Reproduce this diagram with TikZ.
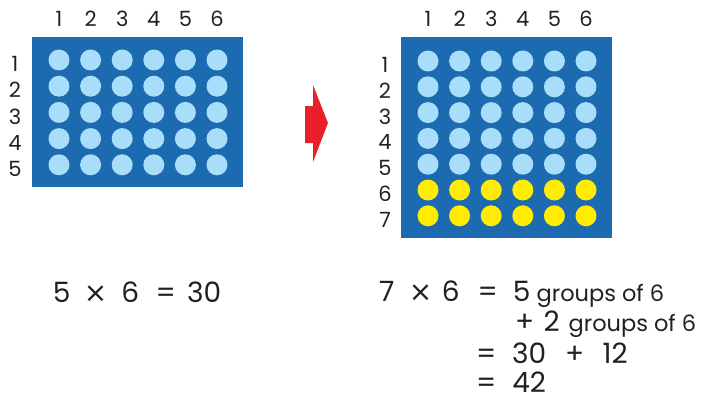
\documentclass[tikz,border=0pt]{standalone}
\usepackage{fontspec}
\setmainfont{Poppins}
\newfontfamily\symfont{DejaVu Sans}
\usetikzlibrary{positioning}
\definecolor{board}{HTML}{1C6BB0}
\definecolor{dot}{HTML}{A8DEF9}
\definecolor{added}{HTML}{FFEC00}
\definecolor{arrowred}{HTML}{E8202A}
\definecolor{ink}{HTML}{231F20}
\newcommand\grp{\fontsize{22.5}{26}\selectfont}
% token centred at the current point, then a step to the next centre
\newcommand\tok[2]{\makebox[0pt]{#1}\hspace{#2pt}}
\newcommand\by{{\symfont ×}}
\tikzset{
  boardbox/.style={fill=board, draw=none},
  peg/.style={fill=#1, draw=none},
  idx/.style={font=\fontsize{21}{24}\selectfont, text=ink, inner sep=0pt},
  eqn/.style={font=\fontsize{28}{32}\selectfont, text=ink, inner sep=0pt,
    text depth=0pt, anchor=base west},
  turn/.style={fill=arrowred, draw=none},
}

\begin{document}
\begin{tikzpicture}[x=1pt, y=-1pt]
  \useasboundingbox (0,0) rectangle (704,404);

  % ---------------- left board: 5 rows of 6 ----------------
  \fill[boardbox] (32,37) rectangle (243,187);
  \foreach \c in {1,...,6} {
    \node[idx] (ltop\c) at ({59+31.6*(\c-1)},19) {\c};
    \foreach \r in {1,...,5}
      \fill[peg=dot] ({59+31.6*(\c-1)},{60+26.2*(\r-1)}) circle (10.5);
  }
  \foreach \r in {1,...,5}
    \node[idx] (lrow\r) at (15,{64+26.2*(\r-1)}) {\r};

  % ---------------- arrow ----------------
  \fill[turn] (305,106) -- (313,106) -- (313,85) -- (328,123) -- (313,162)
    -- (313,143) -- (305,143) -- cycle;

  % ---------------- right board: 7 rows of 6 ----------------
  \fill[boardbox] (401,37) rectangle (612,238);
  \foreach \c in {1,...,6} {
    \node[idx] (rtop\c) at ({428+31.6*(\c-1)},19) {\c};
    \foreach \r in {1,...,7} {
      \ifnum\r>5 \def\pc{added}\else\def\pc{dot}\fi
      \fill[peg=\pc] ({428+31.6*(\c-1)},{61+25.8*(\r-1)}) circle (10.5);
    }
  }
  \foreach \r in {1,...,7}
    \node[idx] (rrow\r) at (385,{65+25.8*(\r-1)}) {\r};

  % ---------------- equations ----------------
  \node[eqn] (leq) at (61.5,302)
    {\tok{5}{34}\tok{\by}{34.5}\tok{6}{35.5}\tok{=}{38.5}\tok{30}{0}};
  \node[eqn] (req1) at (386.5,301)
    {\tok{7}{34}\tok{\by}{30}\tok{6}{37}\tok{=}{34}\tok{5}{15}{\grp groups of 6}};
  \node[eqn] (req2) at (524.5,331)
    {\tok{+}{27}\tok{2}{17}{\grp groups of 6}};
  \node[eqn] (req3) at (486,363)
    {\tok{=}{43}\tok{30}{45.5}\tok{+}{40.5}\tok{12}{0}};
  \node[eqn] (req4) at (486,392)
    {\tok{=}{43}\tok{42}{0}};
\end{tikzpicture}
\end{document}
